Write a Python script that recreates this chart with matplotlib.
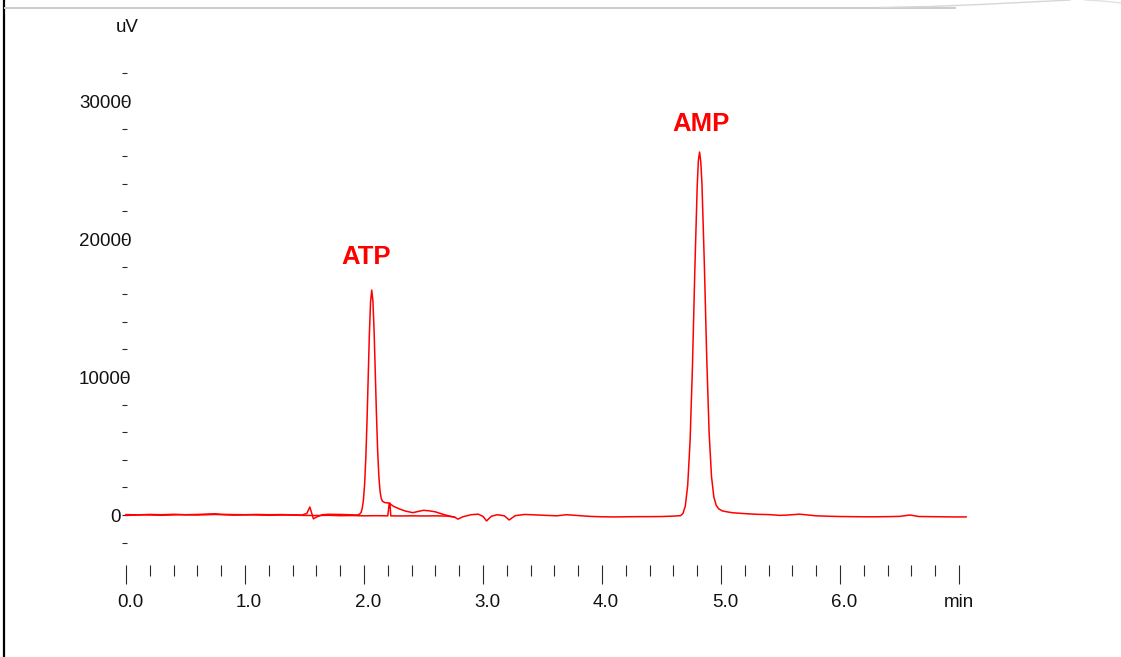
import matplotlib
matplotlib.use("Agg")
import numpy as np
import matplotlib.pyplot as plt
from matplotlib.lines import Line2D
from matplotlib.transforms import ScaledTranslation

# Chromatogram trace (retention time in min, detector signal in uV)
trace_time = [0.00, 0.10, 0.20, 0.30, 0.40, 0.50, 0.60, 0.70, 0.75, 0.80,
              0.90, 1.00, 1.10, 1.20, 1.30, 1.40, 1.48, 1.52, 1.545, 1.56,
              1.575, 1.60, 1.65, 1.70, 1.80, 1.90, 1.945, 1.955, 1.965, 1.975,
              1.985, 1.995, 2.005, 2.015, 2.025, 2.035, 2.045, 2.055, 2.065, 2.075,
              2.085, 2.095, 2.105, 2.115, 2.125, 2.135, 2.145, 2.155, 2.175, 2.21,
              2.25, 2.30, 2.35, 2.41, 2.46, 2.50, 2.55, 2.60, 2.66, 2.72,
              2.76, 2.79, 2.83, 2.90, 2.96, 3.00, 3.03, 3.07, 3.12, 3.18,
              3.22, 3.27, 3.35, 3.45, 3.55, 3.62, 3.70, 3.80, 3.90, 4.00,
              4.10, 4.20, 4.30, 4.40, 4.50, 4.60, 4.66, 4.68, 4.70, 4.72,
              4.74, 4.76, 4.78, 4.80, 4.81, 4.82, 4.83, 4.84, 4.86, 4.88,
              4.90, 4.92, 4.94, 4.96, 4.98, 5.01, 5.05, 5.10, 5.20, 5.30,
              5.40, 5.50, 5.60, 5.66, 5.72, 5.80, 5.90, 6.00, 6.10, 6.20,
              6.30, 6.40, 6.50, 6.59, 6.66, 6.75, 6.85, 6.95, 7.06]
trace_uv = [30, 10, 40, 20, 50, 20, 40, 70, 90, 50,
            30, 20, 40, 20, 30, 10, 0, 120, 580, 150,
            -280, -150, 20, 50, 40, 10, 0, 30, 80, 180,
            470, 1070, 2210, 4070, 6700, 9890, 13050, 15420, 16300, 15500,
            13300, 10300, 7200, 4600, 2800, 1700, 1200, 1000, 900, 860,
            620, 430, 280, 170, 260, 340, 300, 230, 60, -80,
            -150, -300, -130, 20, 60, -100, -430, -90, 20, -60,
            -360, -50, 40, 0, -40, -60, 20, -40, -100, -130,
            -140, -130, -120, -120, -110, -80, -50, 110, 650, 2130,
            5320, 10710, 17720, 23820, 25700, 26300, 25600, 24000, 18200, 11400,
            6000, 2800, 1300, 700, 450, 300, 230, 160, 100, 50,
            30, -30, 20, 60, 10, -60, -90, -110, -120, -130,
            -130, -120, -100, 0, -110, -120, -130, -140, -140]

# Overlaid blank run (baseline only, ends at 2.76 min)
blank_time = [0.00, 0.15, 0.30, 0.45, 0.60, 0.75, 0.90, 1.05, 1.20, 1.35,
              1.50, 1.60, 1.70, 1.80, 1.90, 2.00, 2.10, 2.20, 2.212, 2.218,
              2.225, 2.30, 2.40, 2.50, 2.60, 2.70, 2.76]
blank_uv = [-30, 10, -20, 20, 0, 40, -10, 10, -20, 0,
            -30, -40, -20, -50, -40, -60, -50, -60, 860, 860,
            -60, -70, -60, -70, -60, -80, -150]

peak_names = ["ATP", "AMP"]
peak_label_x = [2.017, 4.832]
peak_label_y = [18200, 27800]

x_major = [0, 1, 2, 3, 4, 5, 6, 7]
x_labels = ["0.0", "1.0", "2.0", "3.0", "4.0", "5.0", "6.0", "min"]
y_ticks = list(range(-2000, 32001, 2000))
y_labels = {0: "0", 10000: "10000", 20000: "20000", 30000: "30000"}

W, H = 1121, 657
fig = plt.figure(figsize=(W / 100, H / 100), dpi=100)
fig.patch.set_facecolor("white")

font = "Liberation Sans"
tick_col = "#2a2a2a"

ax = fig.add_axes([124 / W, 92 / H, 846 / W, 505 / H])
ax.set_xlim(-2 / 119, 844 / 119)
ax.set_ylim(-50 / 0.0138, 455 / 0.0138)
for s in ax.spines.values():
    s.set_visible(False)
ax.patch.set_alpha(0)

ax.plot(blank_time, blank_uv, color="#ff0000", lw=1.1, solid_joinstyle="round")
ax.plot(trace_time, trace_uv, color="#ff0000", lw=1.1, solid_joinstyle="round")

# ticks: y short dashes, x long majors + 0.2 min minors
ax.set_xticks(x_major)
ax.set_xticks([m / 5 for m in range(36) if m % 5], minor=True)
ax.set_yticks(y_ticks)
ax.set_xticklabels([])
ax.set_yticklabels([])
ax.tick_params(axis="x", which="major", direction="out", length=13.7,
               width=0.8, color=tick_col)
ax.tick_params(axis="x", which="minor", direction="out", length=7.9,
               width=0.8, color=tick_col)
ax.tick_params(axis="y", which="major", direction="inout", length=3.6,
               width=0.8, color=tick_col)

# tick label text
for val, lab in y_labels.items():
    dx = (117.5 - 7.7 * len(lab)) - 124
    tr = ax.get_yaxis_transform() + ScaledTranslation(dx / 100, 0, fig.dpi_scale_trans)
    ax.text(0, val, lab, transform=tr, ha="left", va="center_baseline",
            fontsize=13.5, family=font, color="#111111")

for val, lab in zip(x_major, x_labels):
    if lab == "min":
        tr = ax.get_xaxis_transform() + ScaledTranslation(0, -0.42, fig.dpi_scale_trans)
        ax.text(val, 0, lab, transform=tr, ha="center", va="baseline",
                fontsize=13.5, family=font, color="#111111")
    else:
        tr = ax.get_xaxis_transform() + ScaledTranslation(-0.09, -0.42, fig.dpi_scale_trans)
        ax.text(val, 0, lab, transform=tr, ha="left", va="baseline",
                fontsize=13.5, family=font, color="#111111")

fig.text(116 / W, 1 - 32 / H, "uV", ha="left", va="baseline",
         fontsize=13.5, family=font, color="#111111")

# peak names
for name, px, py in zip(peak_names, peak_label_x, peak_label_y):
    ax.text(px, py, name, ha="center", va="baseline", fontsize=18.5,
            family=font, fontweight="bold", color="#ff0000")

# page frame: black left edge, grey rule along the top
fig.add_artist(Line2D([4 / W, 4 / W], [0, 1], transform=fig.transFigure,
                      color="black", lw=1.6))
fig.add_artist(Line2D([5 / W, 955 / W], [1 - 7.5 / H, 1 - 7.5 / H],
                      transform=fig.transFigure, color="#cccccc", lw=1.4))
cx = np.array([880, 930, 980, 1030, 1070])
cy = np.array([7.5, 6.5, 4.5, 2.0, 0.0])
fig.add_artist(Line2D(cx / W, 1 - cy / H, transform=fig.transFigure,
                      color="#d6d6d6", lw=1.0))
fig.add_artist(Line2D(np.array([1085, 1105, 1121]) / W, 1 - np.array([0.0, 1.2, 3.0]) / H,
                      transform=fig.transFigure, color="#e2e2e2", lw=1.0))

fig.savefig("out.png", dpi=100)
